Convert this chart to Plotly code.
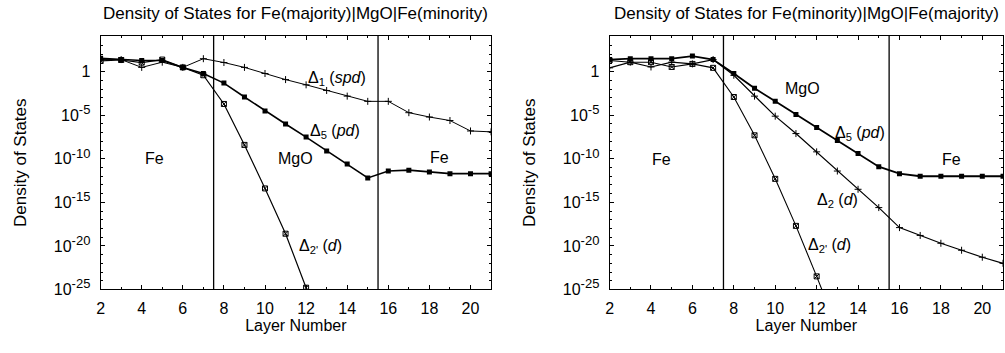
import plotly.graph_objects as go

# ---------------- data (log10 of density of states) ----------------
layers = list(range(2, 22))

# Left panel: Fe(majority)|MgO|Fe(minority)
L_delta1 = [1.4, 1.4, 0.5, 1.1, 0.5, 1.5, 1.06, 0.5, -0.2, -0.9, -1.5, -2.15, -2.8, -3.4, -3.4, -4.7, -5.2, -5.6, -6.8, -6.9]
L_delta5 = [1.55, 1.4, 1.3, 1.3, 0.5, -0.2, -1.3, -2.9, -4.5, -6.0, -7.5, -9.1, -10.6, -12.2, -11.4, -11.3, -11.5, -11.7, -11.7, -11.7]
L_delta2p_layers = list(range(2, 13))
L_delta2p = [1.25, 1.35, 1.05, 1.4, 0.5, -0.4, -3.7, -8.4, -13.4, -18.6, -24.8]

# Right panel: Fe(minority)|MgO|Fe(majority)
R_delta5 = [1.4, 1.5, 1.5, 1.5, 1.8, 1.4, -0.2, -1.9, -3.4, -4.9, -6.4, -7.9, -9.4, -10.9, -11.7, -12.0, -12.0, -12.0, -12.0, -12.0]
R_delta2 = [0.45, 1.1, 0.55, 1.1, 0.9, 1.4, -0.4, -2.8, -5.1, -7.1, -9.2, -11.4, -13.5, -15.6, -17.9, -18.8, -19.7, -20.5, -21.3, -22.0]
R_delta2p_layers = list(range(2, 14))
R_delta2p = [1.3, 1.1, 1.1, 0.55, 0.9, 0.45, -2.9, -7.3, -12.3, -17.7, -23.5, -29.5]

interfaces = [7.5, 15.5]
x_ticks = [2, 4, 6, 8, 10, 12, 14, 16, 18, 20]
y_tick_exps = [0, -5, -10, -15, -20, -25]
y_tick_text = ["1"] + ["10<sup><span style='font-size:13px'>%d</span></sup>" % e for e in y_tick_exps[1:]]

titles = ["Density of States for Fe(majority)|MgO|Fe(minority)",
          "Density of States for Fe(minority)|MgO|Fe(majority)"]

# annotations: (panel, text, x, log10 y)
labels = [
    (1, "Δ<sub>1</sub> (<i>spd</i>)", 13.5, -0.8),
    (1, "Δ<sub>5</sub> (<i>pd</i>)", 13.4, -6.9),
    (1, "MgO", 11.5, -10.0),
    (1, "Fe", 4.6, -10.0),
    (1, "Fe", 18.5, -9.9),
    (1, "Δ<sub>2'</sub> (<i>d</i>)", 12.7, -20.1),
    (2, "MgO", 11.3, -1.9),
    (2, "Δ<sub>5</sub> (<i>pd</i>)", 14.1, -7.1),
    (2, "Fe", 4.5, -10.1),
    (2, "Fe", 18.5, -10.1),
    (2, "Δ<sub>2</sub> (<i>d</i>)", 13.0, -14.8),
    (2, "Δ<sub>2'</sub> (<i>d</i>)", 12.6, -20.0),
]

FONT = "Liberation Sans, Arial, Helvetica, sans-serif"

def pw(vals):
    return [10 ** v for v in vals]

fig = go.Figure()

plus = dict(symbol="cross-thin", size=5, line=dict(width=1, color="black"), color="black")
fsq = dict(symbol="square", size=5, color="black")
osq = dict(symbol="square-x-open", size=5, line=dict(width=1, color="black"), color="black")

# Left panel traces
fig.add_trace(go.Scatter(x=layers, y=pw(L_delta1), mode="lines+markers",
                         line=dict(color="black", width=1), marker=plus, xaxis="x", yaxis="y"))
fig.add_trace(go.Scatter(x=layers, y=pw(L_delta5), mode="lines+markers",
                         line=dict(color="black", width=1.6), marker=fsq, xaxis="x", yaxis="y"))
fig.add_trace(go.Scatter(x=L_delta2p_layers, y=pw(L_delta2p), mode="lines+markers",
                         line=dict(color="black", width=1.2), marker=osq, xaxis="x", yaxis="y"))

# Right panel traces
fig.add_trace(go.Scatter(x=layers, y=pw(R_delta5), mode="lines+markers",
                         line=dict(color="black", width=1.8), marker=fsq, xaxis="x2", yaxis="y2"))
fig.add_trace(go.Scatter(x=layers, y=pw(R_delta2), mode="lines+markers",
                         line=dict(color="black", width=1.2), marker=plus, xaxis="x2", yaxis="y2"))
fig.add_trace(go.Scatter(x=R_delta2p_layers, y=pw(R_delta2p), mode="lines+markers",
                         line=dict(color="black", width=1.1), marker=osq, xaxis="x2", yaxis="y2"))

axis_common = dict(showline=True, linecolor="black", linewidth=1, mirror="allticks",
                   ticks="inside", ticklen=4, tickcolor="black", showgrid=False, zeroline=False,
                   tickfont=dict(family=FONT, size=16, color="black"))

x_minor = dict(ticks="inside", ticklen=2, tickcolor="black", dtick=1)
y_minor = dict(ticks="inside", ticklen=2, tickcolor="black",
               tickvals=[10 ** e for e in range(-25, 5)])

xdom = [[97 / 1005, 489 / 1005], [608 / 1005, 1003 / 1005]]
ydom = [1 - 297 / 353, 1 - 37 / 353]

for i, (xa, ya) in enumerate([("xaxis", "yaxis"), ("xaxis2", "yaxis2")]):
    fig.layout[xa] = dict(axis_common, domain=xdom[i], range=[2, 21], tickvals=x_ticks,
                          minor=x_minor, anchor="y" if i == 0 else "y2", ticklabelstandoff=4,
                          title=dict(text="Layer Number", font=dict(family=FONT, size=16, color="black"),
                                     standoff=4))
    fig.layout[ya] = dict(axis_common, domain=ydom, type="log", range=[-25, 4.1],
                          tickvals=[10 ** e for e in y_tick_exps], ticktext=y_tick_text,
                          minor=y_minor, anchor="x" if i == 0 else "x2", ticklabelstandoff=6,
                          title=dict(text="Density of States", font=dict(family=FONT, size=17, color="black"),
                                     standoff=22))

shapes = []
for i, (xr, yr) in enumerate([("x", "y domain"), ("x2", "y2 domain")]):
    for xv in interfaces:
        shapes.append(dict(type="line", xref=xr, yref=yr, x0=xv, x1=xv, y0=0, y1=1,
                           line=dict(color="black", width=1.3)))

annotations = []
for panel, text, xv, yv in labels:
    annotations.append(dict(text=text, x=xv, y=yv, xref="x" if panel == 1 else "x2",
                            yref="y" if panel == 1 else "y2", showarrow=False,
                            font=dict(family=FONT, size=16, color="black")))
for i, t in enumerate(titles):
    annotations.append(dict(text=t, x=(xdom[i][0] + xdom[i][1]) / 2, y=1 - 14 / 353,
                            xref="paper", yref="paper", xanchor="center", yanchor="middle",
                            showarrow=False,
                            font=dict(family=FONT, size=17, color="black")))

fig.update_layout(width=1005, height=353, margin=dict(l=0, r=0, t=0, b=0),
                  paper_bgcolor="white", plot_bgcolor="white", showlegend=False,
                  shapes=shapes, annotations=annotations)

fig.write_html("out.html")
